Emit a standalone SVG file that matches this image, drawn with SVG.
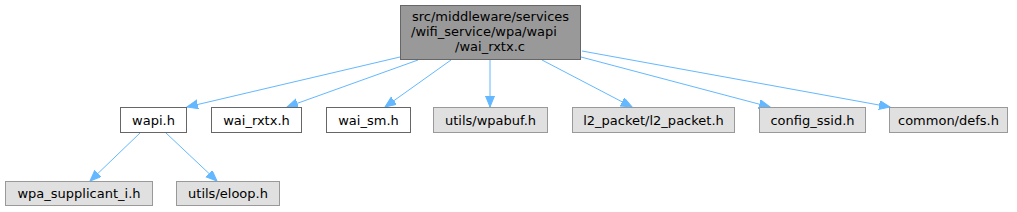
<svg xmlns="http://www.w3.org/2000/svg" width="1017" height="212" viewBox="0 0 1017 212">
<style>
text{font-family:"DejaVu Sans","Liberation Sans",sans-serif;font-size:13px;fill:#000}
.root rect{fill:#999999;stroke:#666666}
.w rect{fill:#ffffff;stroke:#666666}
.g rect{fill:#e0e0e0;stroke:#999999}
.e{stroke:#63b8ff;fill:none;stroke-width:1}
</style>
<defs>
<marker id="ah" markerUnits="userSpaceOnUse" markerWidth="13" markerHeight="10" refX="11" refY="4.5" orient="auto">
<path d="M0,0 L11,4.5 L0,9 z" fill="#63b8ff" stroke="#63b8ff"/>
</marker>
</defs>
<g id="edges">
<line class="e" x1="400" y1="57" x2="187" y2="107" marker-end="url(#ah)"/>
<line class="e" x1="418" y1="60" x2="287" y2="107" marker-end="url(#ah)"/>
<line class="e" x1="451" y1="60" x2="385" y2="107" marker-end="url(#ah)"/>
<line class="e" x1="490" y1="60" x2="490" y2="107" marker-end="url(#ah)"/>
<line class="e" x1="542" y1="60" x2="632" y2="107" marker-end="url(#ah)"/>
<line class="e" x1="581" y1="57" x2="770" y2="107" marker-end="url(#ah)"/>
<line class="e" x1="582" y1="51" x2="890" y2="107" marker-end="url(#ah)"/>
<line class="e" x1="140" y1="133" x2="90" y2="181" marker-end="url(#ah)"/>
<line class="e" x1="166" y1="133" x2="217" y2="181" marker-end="url(#ah)"/>
</g>
<g id="root" class="root">
<rect x="400.5" y="5.5" width="180" height="54"/>
<text x="412" y="21">src/middleware/services</text>
<text x="411" y="36">/wifi_service/wpa/wapi</text>
<text x="490" y="51" text-anchor="middle">/wai_rxtx.c</text>
</g>
<g id="wapi_h" class="w">
<rect x="120.5" y="107.5" width="66" height="25"/>
<text x="153.5" y="125" text-anchor="middle">wapi.h</text>
</g>
<g id="wai_rxtx_h" class="w">
<rect x="211.5" y="107.5" width="90" height="25"/>
<text x="256.5" y="125" text-anchor="middle">wai_rxtx.h</text>
</g>
<g id="wai_sm_h" class="w">
<rect x="326.5" y="107.5" width="84" height="25"/>
<text x="368.5" y="125" text-anchor="middle">wai_sm.h</text>
</g>
<g id="wpabuf_h" class="g">
<rect x="433.5" y="107.5" width="114" height="25"/>
<text x="490.5" y="125" text-anchor="middle">utils/wpabuf.h</text>
</g>
<g id="l2_packet_h" class="g">
<rect x="572.5" y="107.5" width="162" height="25"/>
<text x="653.5" y="125" text-anchor="middle">l2_packet/l2_packet.h</text>
</g>
<g id="config_ssid_h" class="g">
<rect x="759.5" y="107.5" width="106" height="25"/>
<text x="812.5" y="125" text-anchor="middle">config_ssid.h</text>
</g>
<g id="defs_h" class="g">
<rect x="889.5" y="107.5" width="118" height="25"/>
<text x="948.5" y="125" text-anchor="middle">common/defs.h</text>
</g>
<g id="wpa_supplicant_i_h" class="g">
<rect x="5.5" y="181.5" width="147" height="24"/>
<text x="79" y="198" text-anchor="middle">wpa_supplicant_i.h</text>
</g>
<g id="eloop_h" class="g">
<rect x="176.5" y="181.5" width="103" height="24"/>
<text x="228" y="198" text-anchor="middle">utils/eloop.h</text>
</g>
</svg>
